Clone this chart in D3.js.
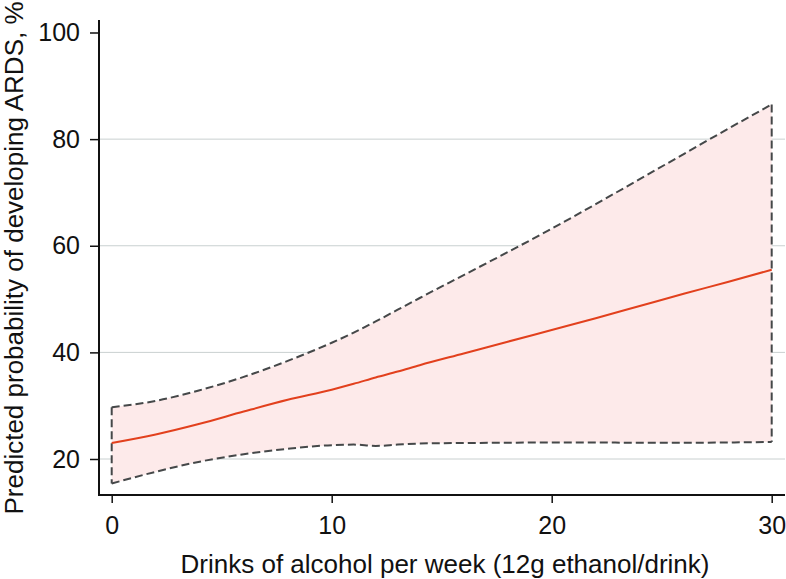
<!DOCTYPE html>
<html>
<head>
<meta charset="utf-8">
<script src="https://cdn.jsdelivr.net/npm/d3@7"></script>
<style>
  html, body { margin: 0; padding: 0; background: #fff; }
  svg { display: block; font-family: "Liberation Sans", Arial, Helvetica, sans-serif; }
</style>
</head>
<body>
<svg id="chart" width="786" height="579"></svg>
<script>
// ---- Data ----
const drinks   = [0, 2, 4, 6, 8, 10, 11, 12, 13, 14, 16, 18, 20, 22, 24, 26, 28, 30];
const predicted = [23.0, 24.6, 26.6, 28.9, 31.1, 33.0, 34.1, 35.3, 36.4, 37.6, 39.8, 42.0, 44.2, 46.4, 48.7, 51.0, 53.2, 55.5];
const upperCI  = [29.7, 30.9, 32.9, 35.4, 38.4, 41.8, 43.7, 45.8, 48.0, 50.2, 54.5, 58.8, 63.2, 67.8, 72.5, 77.2, 81.9, 86.5];
const lowerCI  = [15.4, 17.6, 19.5, 20.9, 21.9, 22.6, 22.7, 22.45, 22.7, 22.9, 23.0, 23.05, 23.1, 23.1, 23.05, 23.05, 23.1, 23.2];
const xTicks = [0, 10, 20, 30];
const yTicks = [20, 40, 60, 80, 100];
const xTitle = "Drinks of alcohol per week (12g ethanol/drink)";
const yTitle = "Predicted probability of developing ARDS, %";

const rows = drinks.map((d, i) => ({ x: d, y: predicted[i], lo: lowerCI[i], hi: upperCI[i] }));

const svg = d3.select("#chart");

const x = d3.scaleLinear().domain([0, 30]).range([111.7, 771.7]);
const y = d3.scaleLinear().domain([20, 100]).range([459, 32.5]);

const axisLeftX = 99, axisBottomY = 495, axisTopY = 20, axisRightX = 785;
const tickFont = 25, titleFont = 26;

// gridlines
svg.append("g").selectAll("line")
  .data(yTicks.filter(t => t < 100))
  .join("line")
  .attr("x1", axisLeftX).attr("x2", axisRightX)
  .attr("y1", d => y(d)).attr("y2", d => y(d))
  .attr("stroke", "#c9d0d0").attr("stroke-width", 1);

// CI band
const area = d3.area()
  .x(d => x(d.x)).y0(d => y(d.lo)).y1(d => y(d.hi))
  .curve(d3.curveMonotoneX);
svg.append("path").datum(rows)
  .attr("d", area)
  .attr("fill", "#fdeaea").attr("stroke", "none");

const dashStyle = sel => sel.attr("fill", "none")
  .attr("stroke", "#454849").attr("stroke-width", 2)
  .attr("stroke-dasharray", "8,4");

const upperLine = d3.line().x(d => x(d.x)).y(d => y(d.hi)).curve(d3.curveMonotoneX);
const lowerLine = d3.line().x(d => x(d.x)).y(d => y(d.lo)).curve(d3.curveMonotoneX);
svg.append("path").datum(rows).attr("d", upperLine).call(dashStyle);
svg.append("path").datum(rows).attr("d", lowerLine).call(dashStyle);
const first = rows[0], last = rows[rows.length - 1];
[first, last].forEach(r => {
  svg.append("line")
    .attr("x1", x(r.x)).attr("x2", x(r.x))
    .attr("y1", y(r.hi)).attr("y2", y(r.lo))
    .call(dashStyle);
});

// predicted line
const predLine = d3.line().x(d => x(d.x)).y(d => y(d.y)).curve(d3.curveMonotoneX);
svg.append("path").datum(rows).attr("d", predLine)
  .attr("fill", "none").attr("stroke", "#e2401d").attr("stroke-width", 2);

// axes
const xAxis = d3.axisBottom(x).tickValues(xTicks).tickSize(8).tickPadding(13).tickFormat(d3.format("d"));
const gx = svg.append("g").attr("transform", `translate(0,${axisBottomY})`).call(xAxis);
gx.select(".domain").remove();
gx.selectAll(".tick line").attr("stroke", "#111").attr("stroke-width", 1.5);
gx.selectAll(".tick text").attr("fill", "#111").attr("font-size", tickFont)
  .attr("font-family", "Liberation Sans, Arial, sans-serif");

const yAxis = d3.axisLeft(y).tickValues(yTicks).tickSize(9).tickPadding(10).tickFormat(d3.format("d"));
const gy = svg.append("g").attr("transform", `translate(${axisLeftX},0)`).call(yAxis);
gy.select(".domain").remove();
gy.selectAll(".tick line").attr("stroke", "#111").attr("stroke-width", 1.5);
gy.selectAll(".tick text").attr("fill", "#111").attr("font-size", tickFont)
  .attr("font-family", "Liberation Sans, Arial, sans-serif");

svg.append("line").attr("x1", axisLeftX).attr("x2", axisLeftX)
  .attr("y1", axisTopY).attr("y2", axisBottomY + 1)
  .attr("stroke", "#111").attr("stroke-width", 2);
svg.append("line").attr("x1", axisLeftX - 1).attr("x2", axisRightX)
  .attr("y1", axisBottomY).attr("y2", axisBottomY)
  .attr("stroke", "#111").attr("stroke-width", 2);

// titles
svg.append("text")
  .attr("x", 445).attr("y", 573)
  .attr("text-anchor", "middle").attr("font-size", titleFont).attr("fill", "#111")
  .text(xTitle);
svg.append("text")
  .attr("transform", "translate(23,258) rotate(-90)")
  .attr("text-anchor", "middle").attr("font-size", titleFont).attr("fill", "#111")
  .text(yTitle);
</script>
</body>
</html>
